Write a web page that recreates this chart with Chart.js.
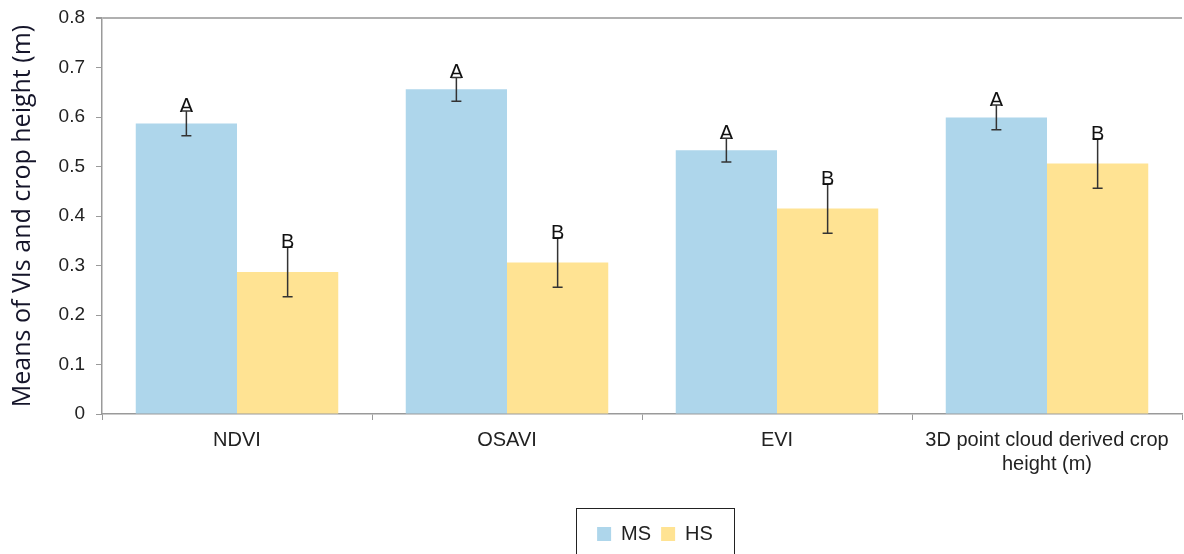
<!DOCTYPE html>
<html>
<head>
<meta charset="utf-8">
<script src="https://cdn.jsdelivr.net/npm/chart.js@4"></script>
<style>
  html, body { margin: 0; padding: 0; background: #fff; }
  #wrap { width: 1184px; height: 554px; position: relative; }
</style>
</head>
<body>
<div id="wrap"><canvas id="c" width="1184" height="554"></canvas></div>
<script>
// Index / crop-height categories
const categories = ['NDVI', 'OSAVI', 'EVI', ['3D point cloud derived crop', 'height (m)']];

// Means per sensor
const msValues = [0.587, 0.656, 0.533, 0.599];
const hsValues = [0.287, 0.306, 0.415, 0.506];

// Standard errors per sensor
const msErrors = [0.025, 0.024, 0.024, 0.025];
const hsErrors = [0.05, 0.05, 0.05, 0.05];

// Significance groups
const msLetters = ['A', 'A', 'A', 'A'];
const hsLetters = ['B', 'B', 'B', 'B'];

// Y axis tick values
const yTicks = [0, 0.1, 0.2, 0.3, 0.4, 0.5, 0.6, 0.7, 0.8];

const AXIS_GREY = '#9a9a9a';
const LEGEND_SHIFT = 64;

// Error bars with significance letters on top
const errorBarPlugin = {
  id: 'errorBars',
  afterDatasetsDraw(chart) {
    const ctx = chart.ctx;
    const y = chart.scales.y;
    chart.data.datasets.forEach((ds, di) => {
      const meta = chart.getDatasetMeta(di);
      meta.data.forEach((bar, i) => {
        const v = ds.data[i];
        const e = ds.errors[i];
        const top = y.getPixelForValue(v + e);
        const bottom = y.getPixelForValue(v - e);
        const x = bar.x;
        ctx.save();
        ctx.strokeStyle = '#333';
        ctx.lineWidth = 1.5;
        ctx.beginPath();
        ctx.moveTo(x, top); ctx.lineTo(x, bottom);
        ctx.moveTo(x - 5, top); ctx.lineTo(x + 5, top);
        ctx.moveTo(x - 5, bottom); ctx.lineTo(x + 5, bottom);
        ctx.stroke();
        ctx.fillStyle = '#111';
        ctx.font = '20px "Liberation Sans", Arial, sans-serif';
        ctx.textAlign = 'center';
        ctx.textBaseline = 'alphabetic';
        ctx.fillText(ds.letters[i], x, top + 1);
        ctx.restore();
      });
    });
  }
};

// Legend sits right of centre, inside a frame
const legendFramePlugin = {
  id: 'legendFrame',
  afterLayout(chart) {
    const lg = chart.legend;
    if (!lg) return;
    lg.left += LEGEND_SHIFT;
    lg.right += LEGEND_SHIFT;
    (lg.legendHitBoxes || []).forEach(h => { h.left += LEGEND_SHIFT; });
  },
  afterDraw(chart) {
    const lg = chart.legend;
    if (!lg) return;
    const ctx = chart.ctx;
    const cx = (lg.left + lg.right) / 2;
    const cy = lg.legendHitBoxes.length ? lg.legendHitBoxes[0].top + lg.legendHitBoxes[0].height / 2 : (lg.top + lg.bottom) / 2;
    ctx.save();
    ctx.strokeStyle = '#222';
    ctx.lineWidth = 1;
    ctx.strokeRect(Math.round(cx - 79) + 0.5, Math.round(cy - 26) + 0.5, 158, 60);
    ctx.restore();
  }
};

new Chart(document.getElementById('c'), {
  type: 'bar',
  data: {
    labels: categories,
    datasets: [
      {
        label: 'MS',
        data: msValues,
        errors: msErrors,
        letters: msLetters,
        backgroundColor: '#AED6EB',
        categoryPercentage: 0.75,
        barPercentage: 1.0
      },
      {
        label: 'HS',
        data: hsValues,
        errors: hsErrors,
        letters: hsLetters,
        backgroundColor: '#FFE393',
        categoryPercentage: 0.75,
        barPercentage: 1.0
      }
    ]
  },
  options: {
    responsive: false,
    animation: false,
    layout: { padding: { top: 18, right: 2, left: 0, bottom: 0 } },
    plugins: {
      tooltip: { enabled: false },
      legend: {
        position: 'bottom',
        labels: {
          boxWidth: 14,
          boxHeight: 14,
          padding: 10,
          color: '#222',
          font: { size: 20, family: '"Liberation Sans", Arial, sans-serif' }
        }
      }
    },
    scales: {
      x: {
        grid: {
          offset: true,
          drawOnChartArea: false,
          drawTicks: true,
          tickLength: 6,
          color: AXIS_GREY
        },
        border: { color: AXIS_GREY, width: 1.5 },
        ticks: {
          color: '#222',
          padding: 8,
          maxRotation: 0,
          font: { size: 20, family: '"Liberation Sans", Arial, sans-serif' }
        },
        afterFit(scale) { scale.height = 100; }
      },
      y: {
        min: 0,
        max: 0.8,
        afterBuildTicks(scale) { scale.ticks = yTicks.map(v => ({ value: v })); },
        grid: {
          drawOnChartArea: true,
          tickLength: 6,
          color: ctx => (ctx.tick && ctx.tick.value === 0.8 ? '#b0b0b0' : 'rgba(0,0,0,0)'),
          tickColor: AXIS_GREY,
          lineWidth: ctx => (ctx.tick && ctx.tick.value === 0.8 ? 2 : 1)
        },
        border: { color: AXIS_GREY, width: 1.5 },
        ticks: {
          color: '#222',
          padding: 11,
          font: { size: 19, family: '"Liberation Sans", Arial, sans-serif' },
          callback: v => String(Math.round(v * 10) / 10)
        },
        title: {
          display: true,
          text: 'Means of VIs and crop height (m)',
          color: '#15152a',
          padding: { top: 8, bottom: 8 },
          font: { size: 25, family: '"Open Sans", sans-serif' }
        },
        afterFit(scale) {
          scale.width = 102;
          scale.paddingTop = 0;
          scale.paddingBottom = 0;
        }
      }
    }
  },
  plugins: [errorBarPlugin, legendFramePlugin]
});
</script>
</body>
</html>
